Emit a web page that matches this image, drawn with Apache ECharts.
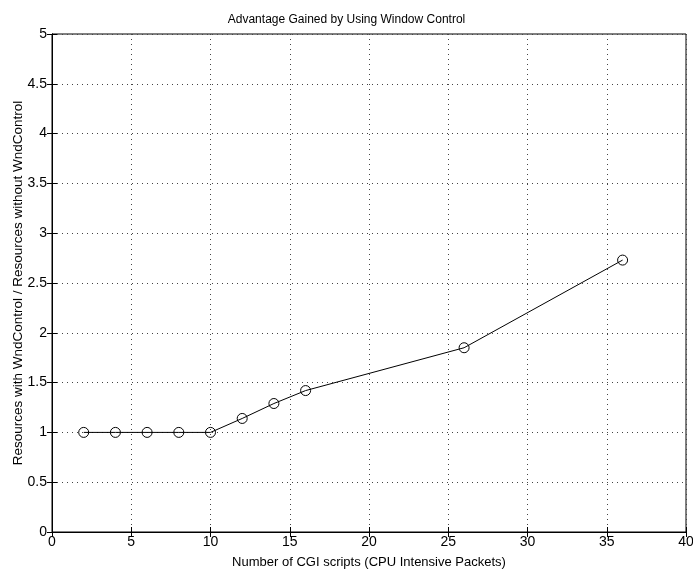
<!DOCTYPE html>
<html>
<head>
<meta charset="utf-8">
<script src="https://cdn.jsdelivr.net/npm/echarts@6/dist/echarts.min.js"></script>
<style>html,body{margin:0;padding:0;background:#fff}#c{width:693px;height:573px}</style>
</head>
<body>
<div id="c"></div>
<script>
const xValues = [2, 4, 6, 8, 10, 12, 14, 16, 26, 36];
const yValues = [1, 1, 1, 1, 1, 1.14, 1.29, 1.42, 1.85, 2.73];
const titleText = 'Advantage Gained by Using Window Control';
const xName = 'Number of CGI scripts (CPU Intensive Packets)';
const yName = 'Resources with WndControl / Resources without WndControl';

const chart = echarts.init(document.getElementById('c'), null, {renderer: 'canvas'});
const font = 'Liberation Sans, Arial, Helvetica, sans-serif';
const split = {show: true, lineStyle: {color: '#444', type: [1, 4], width: 1}};
const ticks = {show: true, inside: true, length: 5, lineStyle: {color: '#000'}};
chart.setOption({
  animation: false,
  title: {text: titleText, left: 'center', top: 9,
    textStyle: {fontFamily: font, fontSize: 12, fontWeight: 'normal', color: '#000'}},
  grid: {left: 52, right: 7, top: 34, bottom: 41, show: true, borderColor: '#000', borderWidth: 1,
    containLabel: false, outerBoundsMode: 'none'},
  xAxis: [{
    type: 'value', min: 0, max: 40, interval: 5, position: 'bottom',
    name: xName, nameLocation: 'middle', nameGap: 24, nameMoveOverlap: false,
    nameTextStyle: {fontFamily: font, fontSize: 13, color: '#000'},
    axisLine: {show: true, lineStyle: {color: '#000'}},
    axisTick: ticks,
    axisLabel: {fontFamily: font, fontSize: 14, color: '#000', margin: 3},
    splitLine: split
  }, {
    type: 'value', min: 0, max: 40, interval: 5, position: 'top',
    axisLine: {show: true, lineStyle: {color: '#000'}},
    axisTick: ticks, axisLabel: {show: false}, splitLine: {show: false}
  }],
  yAxis: [{
    type: 'value', min: 0, max: 5, interval: 0.5, position: 'left',
    name: yName, nameLocation: 'middle', nameGap: 27, nameMoveOverlap: false,
    nameTextStyle: {fontFamily: font, fontSize: 13.5, color: '#000'},
    axisLine: {show: true, lineStyle: {color: '#000'}},
    axisTick: ticks,
    axisLabel: {fontFamily: font, fontSize: 14, color: '#000', margin: 5},
    splitLine: split
  }, {
    type: 'value', min: 0, max: 5, interval: 0.5, position: 'right',
    axisLine: {show: true, lineStyle: {color: '#000'}},
    axisTick: ticks, axisLabel: {show: false}, splitLine: {show: false}
  }],
  series: [{
    type: 'line',
    data: xValues.map((x, i) => [x, yValues[i]]),
    symbol: 'circle', symbolSize: 10, showAllSymbol: true,
    lineStyle: {color: '#000', width: 1},
    itemStyle: {color: 'rgba(255,255,255,0)', borderColor: '#000', borderWidth: 1}
  }]
});
</script>
</body>
</html>
